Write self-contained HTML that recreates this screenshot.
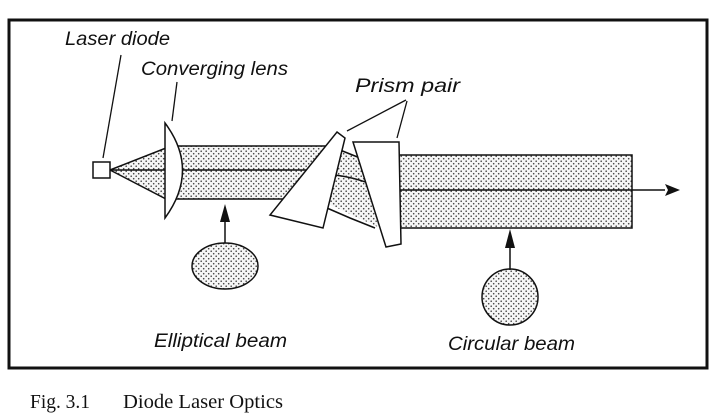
<!DOCTYPE html>
<html><head><meta charset="utf-8"><style>
html,body{margin:0;padding:0;background:#fff;width:724px;height:413px;overflow:hidden}
svg{display:block}
.l{font-family:"Liberation Sans",sans-serif;font-style:italic;font-size:19px;fill:#111}
.c{font-family:"Liberation Serif",serif;font-size:20px;fill:#111}
</style></head><body>
<svg width="724" height="413" viewBox="0 0 724 413" xmlns="http://www.w3.org/2000/svg">
<defs>
<pattern id="d" width="5" height="5" patternUnits="userSpaceOnUse">
<rect width="5" height="5" fill="#f6f6f6"/><circle cx="1.2" cy="1.2" r="0.8" fill="#444"/><circle cx="3.7" cy="3.7" r="0.8" fill="#444"/>
</pattern>
</defs>
<rect x="9" y="20" width="698" height="348" fill="#fff" stroke="#111" stroke-width="3"/>
<text class="l" x="65" y="45" textLength="105" lengthAdjust="spacingAndGlyphs">Laser diode</text>
<text class="l" x="141" y="75" textLength="147" lengthAdjust="spacingAndGlyphs">Converging lens</text>
<text class="l" x="355" y="92" textLength="105" lengthAdjust="spacingAndGlyphs">Prism pair</text>
<text class="l" x="154" y="347" textLength="133" lengthAdjust="spacingAndGlyphs">Elliptical beam</text>
<text class="l" x="448" y="350" textLength="127" lengthAdjust="spacingAndGlyphs">Circular beam</text>
<text class="c" x="30" y="408" textLength="60" lengthAdjust="spacingAndGlyphs">Fig. 3.1</text>
<text class="c" x="123" y="408" textLength="160" lengthAdjust="spacingAndGlyphs">Diode Laser Optics</text>
<g stroke="#111" stroke-width="1.3" fill="none">
<line x1="121" y1="55" x2="103" y2="158"/>
<line x1="177" y1="82" x2="172" y2="121"/>
<line x1="406" y1="100" x2="347" y2="131"/>
<line x1="407" y1="101" x2="397" y2="138"/>
</g>
<g stroke="#111" stroke-width="1.5">
<polygon points="110,170 166,148 166,199" fill="url(#d)"/>
<line x1="110" y1="170" x2="168" y2="170"/>
<rect x="170" y="146" width="170" height="53" fill="url(#d)"/>
<line x1="180" y1="170" x2="325" y2="170"/>
<path d="M330,148 L380,165 L380,228 L320,200 Z" fill="url(#d)" stroke="none"/>
<path d="M340,150 L360,158 L380,165" fill="none"/>
<path d="M320,205 L350,218 L375,228" fill="none"/>
<path d="M335,175 Q360,178 385,190" fill="none"/>
<rect x="399" y="155" width="233" height="73" fill="url(#d)"/>
<line x1="385" y1="190" x2="665" y2="190"/>
<polygon points="337,132 345,138 323,228 270,215" fill="#fff"/>
<polygon points="353,142 399,142 401,244 386,247" fill="#fff"/>
<path d="M165,123 Q200,170 165,218 Z" fill="#fff"/>
<rect x="93" y="162" width="17" height="16" fill="#fff"/>
<ellipse cx="225" cy="266" rx="33" ry="23" fill="url(#d)"/>
<circle cx="510" cy="297" r="28" fill="url(#d)"/>
<line x1="225" y1="243" x2="225" y2="215"/>
<line x1="510" y1="270" x2="510" y2="240"/>
</g>
<polygon points="665,184 680,190 665,196 668,190" fill="#111"/>
<polygon points="225,204 220,222 230,222" fill="#111"/>
<polygon points="510,229 505,248 515,248" fill="#111"/>
</svg>
</body></html>
